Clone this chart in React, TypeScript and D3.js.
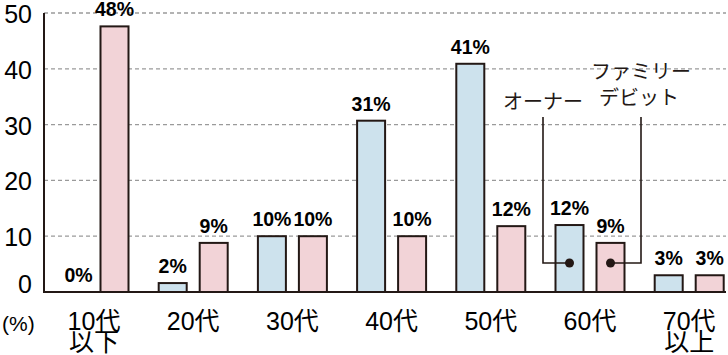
import React from "react";
import * as d3 from "d3";

const categories = ["10代\n以下", "20代", "30代", "40代", "50代", "60代", "70代\n以上"];
const ownerValues = [0, 1.6, 10, 30.7, 40.9, 12, 3];
const familyValues = [47.6, 8.8, 10, 10, 11.8, 8.8, 3];
const yTicks = [0, 10, 20, 30, 40, 50];
const ownerLabel = "オーナー";
const familyLabel = ["ファミリー", "デビット"];
const unitLabel = "(%)";

const W = 728, H = 355;
const FONT = "'Liberation Sans', Arial, 'Noto Sans CJK JP', sans-serif";
const JP = "'Noto Sans CJK JP', sans-serif";
const INK = "#231815";
const BLUE = "#cde2ed";
const PINK = "#f2d3d7";

export default function App() {
  const y = d3.scaleLinear().domain([0, 50]).range([292, 13]);
  const x = d3.scaleBand().domain(categories).range([44.4, 44.4 + 7 * 99.2]).padding(0);
  const bw = 28, gap = 13;
  const cx = (c: string) => (x(c) as number) + x.bandwidth() / 2;
  const ownerX = (c: string) => cx(c) - gap / 2 - bw;
  const famX = (c: string) => cx(c) + gap / 2;
  const fmt = (v: number) => `${Math.round(v)}%`;
  const c60 = categories[5];
  const dotY = y(5.2);
  const ownerDotX = ownerX(c60) + bw / 2;
  const famDotX = famX(c60) + bw / 2;
  const ownerLineX = 543, famLineX = 641, lineTop = 117;

  return (
    <svg width={W} height={H} style={{ position: "absolute", left: 0, top: 0, background: "#fff" }}>
      {yTicks.filter(t => t > 0).map(t => (
        <line key={t} x1={44} x2={726} y1={y(t)} y2={y(t)} stroke="#9a9a9a" strokeWidth={1.3} strokeDasharray="4 3" />
      ))}
      {yTicks.map(t => (
        <text key={t} x={32} y={t === 0 ? y(t) - 8 : y(t) + 1} textAnchor="end" dominantBaseline="central"
          fontFamily={FONT} fontSize={25} fill="#000">{t}</text>
      ))}
      <text x={2} y={331} fontFamily={FONT} fontSize={21} fill="#000">{unitLabel}</text>
      {categories.map((c, i) => (
        <g key={c}>
          {ownerValues[i] > 0 && (
            <rect x={ownerX(c)} y={y(ownerValues[i])} width={bw} height={y(0) - y(ownerValues[i])}
              fill={BLUE} stroke={INK} strokeWidth={2} />
          )}
          <rect x={famX(c)} y={y(familyValues[i])} width={bw} height={y(0) - y(familyValues[i])}
            fill={PINK} stroke={INK} strokeWidth={2} />
          <text x={ownerX(c) + bw / 2 + (ownerValues[i] === 0 ? 5 : 0)} y={y(ownerValues[i]) - 10} textAnchor="middle"
            fontFamily={FONT} fontWeight="bold" fontSize={19.5} fill="#000">{fmt(ownerValues[i])}</text>
          <text x={famX(c) + bw / 2} y={y(familyValues[i]) - 10} textAnchor="middle"
            fontFamily={FONT} fontWeight="bold" fontSize={19.5} fill="#000">{fmt(familyValues[i])}</text>
          {c.split("\n").map((ln, j) => (
            <text key={j} x={cx(c)} y={330 + j * 21} textAnchor="middle" fontFamily={FONT} fontSize={25} fill="#000">{ln}</text>
          ))}
        </g>
      ))}
      <line x1={44} x2={44} y1={13} y2={292} stroke={INK} strokeWidth={2} />
      <line x1={43} x2={726} y1={292} y2={292} stroke={INK} strokeWidth={2} />
      <polyline points={`${ownerLineX},${lineTop} ${ownerLineX},${dotY} ${ownerDotX},${dotY}`} fill="none" stroke={INK} strokeWidth={1.6} />
      <polyline points={`${famLineX},${lineTop} ${famLineX},${dotY} ${famDotX},${dotY}`} fill="none" stroke={INK} strokeWidth={1.6} />
      <circle cx={ownerDotX} cy={dotY} r={4.5} fill={INK} />
      <circle cx={famDotX} cy={dotY} r={4.5} fill={INK} />
      <text x={543} y={109} textAnchor="middle" fontFamily={JP} fontSize={20} fill={INK}>{ownerLabel}</text>
      <text x={641} y={79} textAnchor="middle" fontFamily={JP} fontSize={20} fill={INK}>{familyLabel[0]}</text>
      <text x={639} y={105} textAnchor="middle" fontFamily={JP} fontSize={20} fill={INK}>{familyLabel[1]}</text>
    </svg>
  );
}
